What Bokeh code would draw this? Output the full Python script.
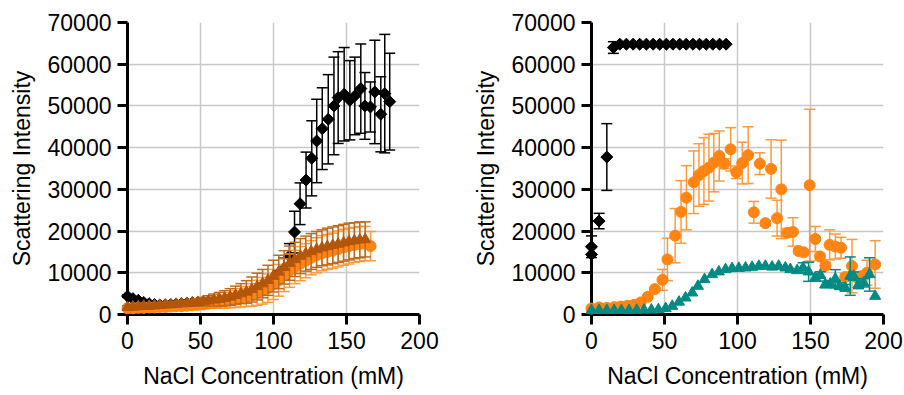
import numpy as np
from bokeh.plotting import figure
from bokeh.layouts import row
from bokeh.models import Range1d, FixedTicker, NumeralTickFormatter
from bokeh.embed import file_html
from bokeh.resources import INLINE

# ---------------- axes / labels ----------------
X_TICKS = [0, 50, 100, 150, 200]
Y_TICKS = [0, 10000, 20000, 30000, 40000, 50000, 60000, 70000]
X_LABEL = "NaCl Concentration (mM)"
Y_LABEL = "Scattering Intensity"

# ---------------- left panel ----------------
L_black_x = [0, 3.7, 7.4, 11.1, 14.8, 18.5, 22.2, 25.9, 29.6, 33.3, 37.0, 40.7, 44.4, 48.1, 51.8,
             55.5, 59.2, 62.9, 66.6, 70.3, 74.0, 77.7, 81.4, 85.1, 88.8, 92.5, 96.2, 99.9, 103.6,
             107.3, 110.9, 114.4, 118.2, 122.3, 126.2, 129.6, 133.4, 137.5, 141.4, 144.3, 148.4,
             152.3, 155.7, 159.8, 162.6, 166.4, 169.4, 173.5, 176.2, 179.6]
L_black_y = [4400, 3800, 3400, 2900, 2600, 2400, 2300, 2300, 2400, 2500, 2600, 2700, 2800, 2900, 3000,
             3100, 3300, 3500, 3700, 4000, 4300, 4600, 5000, 5400, 5800, 6200, 6800, 7800, 9000,
             11000, 14000, 19750, 26550, 32230, 37440, 41600, 44550, 46800, 50000, 52000, 52800,
             51360, 52400, 54150, 50000, 49750, 53350, 48000, 52950, 51030]
L_black_err = [300, 300, 300, 300, 300, 300, 300, 300, 300, 300, 300, 300, 300, 300, 300,
               300, 300, 300, 300, 400, 400, 400, 500, 500, 600, 600, 700, 900, 1500,
               2500, 3000, 5000, 5000, 6700, 9000, 10000, 9800, 10700, 11700, 11000, 11200,
               9500, 9300, 10700, 8000, 6000, 12400, 9000, 14200, 11600]

L_circ_x = [0, 3.7, 7.4, 11.1, 14.8, 18.5, 22.2, 25.9, 29.6, 33.3, 37.0, 40.7, 44.4, 48.1, 51.8,
            55.5, 59.2, 62.9, 66.6, 70.3, 74.0, 77.7, 81.4, 85.1, 88.8, 92.5, 96.2, 99.9, 103.6,
            107.3, 111.0, 114.7, 118.4, 122.1, 125.8, 129.5, 133.2, 136.9, 140.6, 144.3, 148.0,
            151.7, 155.4, 159.1, 162.8, 166.5]
L_circ_y = [1500, 1500, 1600, 1600, 1700, 1700, 1800, 1800, 1900, 2000, 2000, 2100, 2200, 2300, 2400,
            2600, 2700, 2900, 3100, 3400, 3700, 4000, 4300, 4700, 5200, 5700, 6300, 7200, 8200,
            9400, 10500, 11400, 12200, 12900, 13600, 14200, 14700, 15000, 15300, 15700, 16100,
            16400, 16700, 16900, 17000, 16400]
L_circ_err = [300, 300, 300, 300, 400, 400, 400, 400, 500, 500, 500, 600, 700, 800, 900,
              1000, 1200, 1400, 1600, 1800, 2000, 2200, 2400, 2700, 3000, 3200, 3400, 3600, 3800,
              3900, 4000, 4000, 4100, 4100, 4100, 4200, 4200, 4200, 4200, 4300, 4300,
              4300, 4200, 4200, 4100, 3500]

L_tri_x = [0, 3.7, 7.4, 11.1, 14.8, 18.5, 22.2, 25.9, 29.6, 33.3, 37.0, 40.7, 44.4, 48.1, 51.8,
           55.5, 59.2, 62.9, 66.6, 70.3, 74.0, 77.7, 81.4, 85.1, 88.8, 92.5, 96.2, 99.9, 103.6,
           107.3, 111.0, 114.7, 118.4, 122.1, 125.8, 129.5, 133.2, 136.9, 140.6, 144.3, 148.0,
           151.7, 155.4, 159.1, 162.8]
L_tri_y = [1700, 1800, 1900, 2000, 2000, 2100, 2200, 2300, 2400, 2500, 2600, 2700, 2800, 2900, 3100,
           3300, 3500, 3700, 3900, 4200, 4600, 5000, 5400, 6000, 6700, 7400, 8200, 9200, 10200,
           11300, 12300, 13200, 14000, 14600, 15100, 15600, 16000, 16300, 16600, 16900, 17200,
           17500, 17700, 17900, 18000]
L_tri_err = [400, 400, 400, 400, 400, 500, 500, 500, 500, 600, 600, 700, 800, 900, 1000,
             1200, 1400, 1600, 1800, 2000, 2200, 2400, 2700, 3000, 3200, 3400, 3600, 3800, 4000,
             4000, 4100, 4100, 4200, 4200, 4300, 4300, 4300, 4400, 4400, 4400, 4400,
             4400, 4300, 4300, 4200]

# ---------------- right panel ----------------
R_black_x = [0, 0, 5.2, 10.5, 15.0, 19.4, 23.9, 28.5, 33.0, 37.6, 42.2, 46.7, 51.3, 55.8, 60.4,
             64.9, 69.5, 74.0, 78.6, 83.1, 87.7, 92.2]
R_black_y = [14400, 16240, 22400, 37750, 64000, 64800, 64800, 64800, 64800, 64800, 64800, 64800,
             64800, 64800, 64800, 64800, 64800, 64800, 64800, 64800, 64800, 64800]
R_black_err = [0, 2600, 1850, 8000, 1400, 0, 0, 0, 0, 0, 0, 0, 0, 0, 0, 0, 0, 0, 0, 0, 0, 0]

R_circ_x = [0, 5.2, 10.5, 15.5, 20.0, 24.6, 29.0, 33.7, 38.5, 43.4, 48.6, 52.0, 57.3, 61.3, 65.0,
            70.0, 73.6, 77.0, 80.4, 83.8, 87.5, 91.0, 95.3, 99.2, 103.2, 107.3, 111.2, 115.3,
            119.1, 123.0, 127.1, 130.0, 134.2, 138.0, 141.9, 145.3, 149.4, 153.3, 156.5, 160.2,
            163.1, 167.0, 170.9, 173.8, 178.4, 181.8, 185.0, 188.7, 194.3]
R_circ_y = [1440, 1700, 1600, 1760, 1900, 2100, 2300, 2900, 4250, 6100, 8300, 13200, 18900, 24600,
            28000, 31700, 33440, 34400, 35200, 36400, 38000, 36160, 39600, 34100, 36300, 38200,
            24500, 36160, 21900, 34900, 23100, 30000, 19600, 19800, 15200, 14900, 31000, 18100,
            13900, 11700, 16700, 16300, 16000, 9000, 11600, 8900, 9200, 10000, 12000]
R_circ_err = [0, 0, 0, 0, 0, 0, 0, 0, 0, 300, 2500, 5100, 6500, 7500, 7700,
              7500, 7500, 8000, 8000, 7000, 6000, 1200, 5200, 1500, 5000, 6800,
              2600, 2600, 600, 7000, 4300, 11800, 1000, 3400, 600, 600, 18200, 3000,
              800, 800, 3600, 3000, 2500, 800, 6400, 800, 1000, 3000, 5700]

R_tri_x = [0, 5.2, 10.5, 15.5, 20.5, 25.7, 31.0, 36.0, 41.0, 45.8, 50.8, 55.3, 59.9, 64.4, 69.0,
           72.9, 77.4, 82.6, 87.2, 91.8, 96.3, 100.9, 105.5, 110.0, 114.6, 119.1, 123.7, 128.2,
           132.8, 136.2, 140.8, 144.9, 148.7, 153.3, 156.7, 160.1, 163.6, 167.0, 170.0, 173.8,
           177.2, 179.5, 182.9, 186.3, 190.4, 194.3]
R_tri_y = [1000, 1000, 1000, 1000, 1000, 1000, 1050, 1100, 1100, 1200, 1450, 2000, 3000, 4000, 5200,
           6800, 8400, 9600, 10250, 10800, 11050, 11100, 11200, 11350, 11600, 11600, 11400, 11600,
           11200, 10800, 10550, 11200, 10250, 8800, 9450, 7200, 7350, 8550, 6800, 6400,
           9200, 9200, 7200, 7600, 9600, 4400]
R_tri_err = [0, 0, 0, 0, 0, 0, 0, 0, 0, 0, 0, 0, 0, 0, 0,
             0, 0, 0, 0, 0, 0, 0, 0, 0, 0, 0, 0, 0,
             0, 0, 0, 1200, 2300, 800, 800, 800, 800, 2200, 800, 800,
             4600, 1000, 1000, 1000, 4000, 0]

# ---------------- styling ----------------
FONT = "Liberation Sans"
BLACK = "#000000"
ORANGE = "#FF8412"
ORANGE_ERR = "#FF9A3C"
BROWN = "#B4560A"
BROWN_ERR = "#C06A1E"
TEAL = "#008A84"
GRID = "#C8C8C8"


def make_fig(border_left, border_right):
    p = figure(width=452, height=395, output_backend="svg", toolbar_location=None,
               x_range=Range1d(0, 200), y_range=Range1d(0, 70000),
               min_border_left=border_left, min_border_right=border_right,
               min_border_top=22, min_border_bottom=81)
    p.outline_line_color = None
    p.background_fill_color = "white"
    p.border_fill_color = "white"
    p.xaxis.ticker = FixedTicker(ticks=X_TICKS)
    p.yaxis.ticker = FixedTicker(ticks=Y_TICKS)
    p.yaxis.formatter = NumeralTickFormatter(format="0")
    for ax in (p.xaxis[0], p.yaxis[0]):
        ax.axis_line_width = 3
        ax.axis_line_color = BLACK
        ax.major_tick_line_width = 3
        ax.major_tick_line_color = BLACK
        ax.major_tick_out = 10
        ax.major_tick_in = 0
        ax.minor_tick_out = 0
        ax.minor_tick_in = 0
        ax.major_label_text_font = FONT
        ax.major_label_text_font_size = "23px"
        ax.major_label_text_color = BLACK
        ax.axis_label_text_font = FONT
        ax.axis_label_text_font_size = "23px"
        ax.axis_label_text_font_style = "normal"
        ax.axis_label_text_color = BLACK
    p.xaxis.axis_label = X_LABEL
    p.yaxis.axis_label = Y_LABEL
    p.xaxis.major_label_standoff = 7
    p.yaxis.major_label_standoff = 6
    p.xaxis.axis_label_standoff = 11
    p.yaxis.axis_label_standoff = 10
    p.grid.grid_line_color = GRID
    p.grid.grid_line_width = 1.5
    p.xgrid.ticker = FixedTicker(ticks=X_TICKS)
    p.ygrid.ticker = FixedTicker(ticks=Y_TICKS)
    return p


def add_series(p, x, y, err, marker, color, size, err_color, angle=0.0):
    x = np.asarray(x, float)
    y = np.asarray(y, float)
    e = np.asarray(err, float)
    m = e > 0
    xe, lo, hi = x[m], (y - e)[m], (y + e)[m]
    if len(xe):
        r1 = p.segment(x0=xe, y0=lo, x1=xe, y1=hi, line_color=err_color, line_width=1.5)
        r2 = p.scatter(x=np.concatenate([xe, xe]), y=np.concatenate([lo, hi]), marker="dash",
                       size=11, line_color=err_color, line_width=1.5)
        r1.level = "overlay"
        r2.level = "overlay"
    r3 = p.scatter(x=x, y=y, marker=marker, size=size, fill_color=color, line_color=color,
                   angle=angle)
    r3.level = "overlay"


left = make_fig(127, 33)
add_series(left, L_black_x, L_black_y, L_black_err, "square", BLACK, 8.5, BLACK, angle=np.pi / 4)
add_series(left, L_circ_x, L_circ_y, L_circ_err, "circle", ORANGE, 11, ORANGE_ERR)
add_series(left, L_tri_x, L_tri_y, L_tri_err, "triangle", BROWN, 11, BROWN_ERR)

right = make_fig(139, 21)
add_series(right, R_black_x, R_black_y, R_black_err, "square", BLACK, 8.5, BLACK, angle=np.pi / 4)
add_series(right, R_circ_x, R_circ_y, R_circ_err, "circle", ORANGE, 11, ORANGE_ERR)
add_series(right, R_tri_x, R_tri_y, R_tri_err, "triangle", TEAL, 11, TEAL)

layout = row(left, right)
open("out.html", "w").write(file_html(layout, INLINE))
